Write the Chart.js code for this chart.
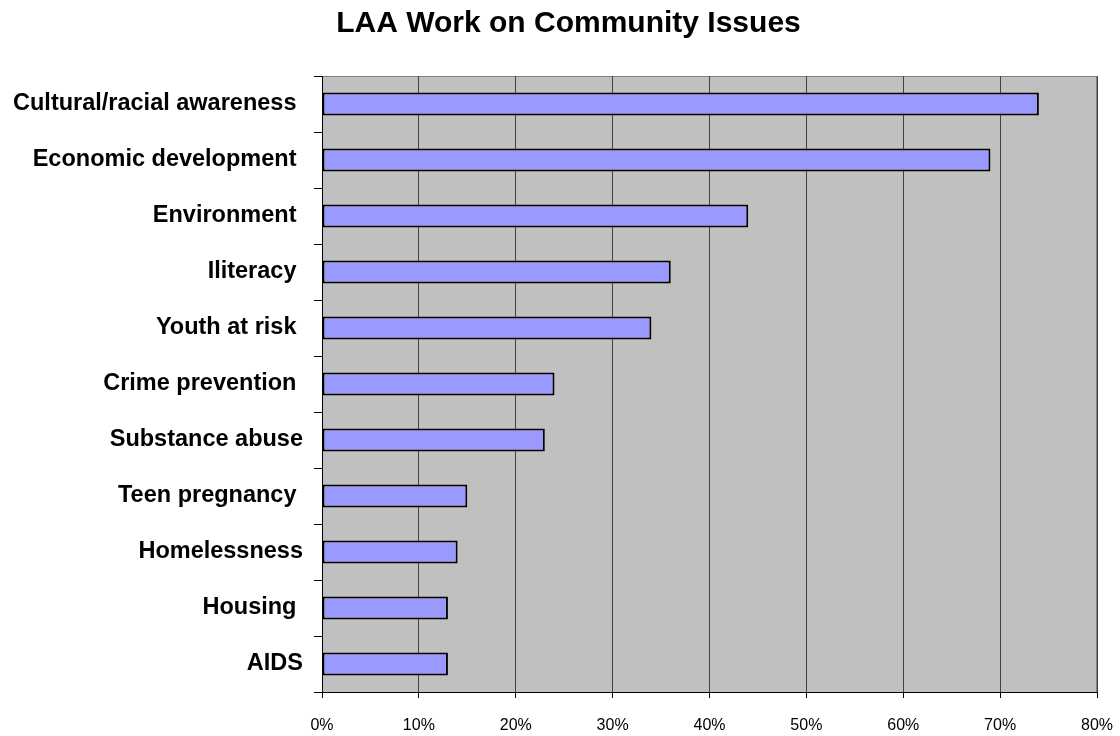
<!DOCTYPE html>
<html>
<head>
<meta charset="utf-8">
<script src="https://cdn.jsdelivr.net/npm/chart.js@4/dist/chart.umd.min.js"></script>
<style>
  body { margin: 0; background: #fff; }
  canvas { display: block; }
</style>
</head>
<body>
<canvas id="chart" width="1120" height="736"></canvas>
<script>
// categories keep the trailing spaces of the original labels
const issues = [
    'Cultural/racial awareness ', 'Economic development ', 'Environment ', 'Iliteracy ',
    'Youth at risk ', 'Crime prevention ', 'Substance abuse', 'Teen pregnancy ',
    'Homelessness', 'Housing ', 'AIDS',
];
const percents = [74, 69, 44, 36, 34, 24, 23, 15, 14, 13, 13];
const tickValues = [0, 10, 20, 30, 40, 50, 60, 70, 80];

const font = 'Arial, "Liberation Sans", sans-serif';
const titleShift = 17;  // px, the original title sits a bit right of the page centre

// gray plot area with a thin gray frame (axes draw their black lines on top)
const plotArea = {
    id: 'plotArea',
    afterLayout: (chart) => {
        if (!chart.titleBlock) return;
        chart.titleBlock.left += titleShift;
        chart.titleBlock.right += titleShift;
    },
    beforeDraw: (chart) => {
        const { ctx, chartArea: a } = chart;
        ctx.save();
        ctx.fillStyle = '#c0c0c0';
        ctx.fillRect(a.left, a.top, a.right - a.left, a.bottom - a.top);
        ctx.strokeStyle = '#808080';
        ctx.lineWidth = 1;
        ctx.strokeRect(a.left + 0.5, a.top + 0.5, a.right - a.left - 1, a.bottom - a.top);
        ctx.restore();
    }
};

new Chart(document.getElementById('chart').getContext('2d'), {
    type: 'bar',
    data: {
        labels: issues,
        datasets: [{
            data: percents,
            backgroundColor: '#9999ff',
            borderColor: '#000000',
            borderWidth: 2,
            borderSkipped: false,
            categoryPercentage: 1,
            barPercentage: 0.41,
        }]
    },
    options: {
        indexAxis: 'y',
        responsive: false,
        animation: false,
        layout: { padding: { left: 6, right: 23, bottom: 0, top: 0 } },
        plugins: {
            legend: { display: false },
            tooltip: { enabled: false },
            title: {
                display: true,
                text: 'LAA Work on Community Issues',
                color: '#000',
                font: { family: font, size: 30, weight: 'bold' },
                padding: { top: 6, bottom: 34 },
            },
        },
        scales: {
            x: {
                min: 0,
                max: 80,
                afterBuildTicks: (scale) => { scale.ticks = tickValues.map(v => ({ value: v })); },
                ticks: {
                    callback: (v) => v + '%',
                    color: '#000',
                    font: { family: font, size: 16 },
                    padding: 18,
                    maxRotation: 0,
                },
                grid: { color: '#404040', lineWidth: 1, tickLength: 6, tickColor: '#000' },
                border: { color: '#000', width: 1 },
                afterFit: (scale) => {
                    scale.height = 44;
                    // no extra room for the end labels, the layout padding handles it
                    scale.paddingLeft = 0;
                    scale.paddingRight = 0;
                },
            },
            y: {
                ticks: {
                    color: '#000',
                    font: { family: font, size: 23.5, weight: 'bold' },
                    padding: 11,
                },
                grid: { drawOnChartArea: false, tickLength: 8, color: '#000', offset: true },
                border: { color: '#000', width: 1 },
                afterFit: (scale) => { scale.width = 316; },
            },
        },
    },
    plugins: [plotArea],
});
</script>
</body>
</html>
